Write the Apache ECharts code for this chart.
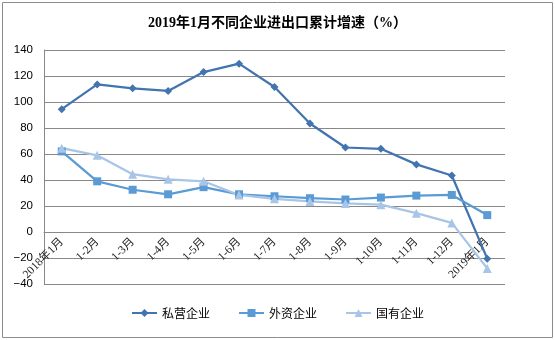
<!DOCTYPE html>
<html>
<head>
<meta charset="utf-8">
<script src="https://cdn.jsdelivr.net/npm/echarts@6/dist/echarts.min.js"></script>
<style>
  html, body { margin: 0; padding: 0; background: #fff; }
  #chart { width: 555px; height: 340px; }
</style>
</head>
<body>
<div id="chart"></div>
<script>
// Cumulative import/export growth (%) by enterprise type
const categories = ['2018年1月', '1-2月', '1-3月', '1-4月', '1-5月', '1-6月', '1-7月',
  '1-8月', '1-9月', '1-10月', '1-11月', '1-12月', '2019年1月'];
const privateValues = [94.5, 113.5, 110.5, 108.5, 123, 129.5, 111.5, 83.5, 65, 64, 52, 43.5, -20.5];
const foreignValues = [62, 39, 32.5, 29, 34.5, 29, 27.5, 26, 25, 26.5, 28, 28.5, 13];
const stateValues = [64.5, 59, 44.5, 40.5, 39, 28.5, 25.5, 23.5, 22, 21, 14.5, 7, -28];
const seriesNames = ['私营企业', '外资企业', '国有企业'];
const yMin = -40, yMax = 140, yStep = 20;

const chart = echarts.init(document.getElementById('chart'), null, { renderer: 'canvas' });

const serifFont = '"Liberation Serif", "Noto Sans CJK SC", serif';
const cjkFont = '"Noto Sans CJK SC", sans-serif';

const gridTop = 50, gridBottom = 56, chartH = 340;
const plotH = chartH - gridTop - gridBottom;
// place the category axis on the zero line
const zeroOffset = -plotH * (0 - yMin) / (yMax - yMin);

function lineSeries(name, data, color, symbol, size) {
  return {
    name: name,
    type: 'line',
    data: data,
    symbol: symbol,
    symbolSize: size,
    showAllSymbol: true,
    lineStyle: { color: color, width: 2.25 },
    itemStyle: { color: color },
    emphasis: { disabled: true },
    animation: false
  };
}

chart.setOption({
  backgroundColor: '#ffffff',
  animation: false,
  title: {
    text: '2019年1月不同企业进出口累计增速（%）',
    left: 'center',
    top: 11,
    textStyle: { fontFamily: serifFont, fontSize: 14, fontWeight: 'bold', color: '#000' }
  },
  graphic: [{
    type: 'rect',
    shape: { x: 2.5, y: 2.5, width: 550, height: 335 },
    style: { fill: 'none', stroke: '#8c8c8c', lineWidth: 1 },
    silent: true
  }],
  legend: {
    data: seriesNames,
    left: 'center',
    top: 302,
    itemWidth: 25,
    itemHeight: 10,
    itemGap: 28,
    textStyle: { fontFamily: cjkFont, fontSize: 12, color: '#000' }
  },
  grid: { left: 44, right: 50, top: gridTop, bottom: gridBottom, containLabel: false },
  xAxis: {
    type: 'category',
    data: categories,
    boundaryGap: true,
    position: 'bottom',
    offset: zeroOffset,
    axisLine: { onZero: false, lineStyle: { color: '#888', width: 1 } },
    axisTick: { show: false },
    axisLabel: {
      rotate: 45,
      interval: 0,
      margin: 8,
      fontFamily: serifFont,
      fontSize: 11.5,
      color: '#222'
    },
    splitLine: { show: false }
  },
  yAxis: {
    type: 'value',
    min: yMin,
    max: yMax,
    interval: yStep,
    axisLine: { show: true, lineStyle: { color: '#888', width: 1 } },
    axisTick: { show: false },
    axisLabel: {
      margin: 11,
      fontFamily: '"Liberation Sans", Arial, sans-serif',
      fontSize: 11.5,
      color: '#000',
      formatter: function (v) { return String(v).replace('-', '−'); }
    },
    splitLine: { show: true, lineStyle: { color: '#888', width: 1 } }
  },
  series: [
    lineSeries(seriesNames[0], privateValues, '#4274b0', 'diamond', 8),
    lineSeries(seriesNames[1], foreignValues, '#5b9bd5', 'rect', 8),
    lineSeries(seriesNames[2], stateValues, '#a8c5e8', 'triangle', 9)
  ]
});
</script>
</body>
</html>
